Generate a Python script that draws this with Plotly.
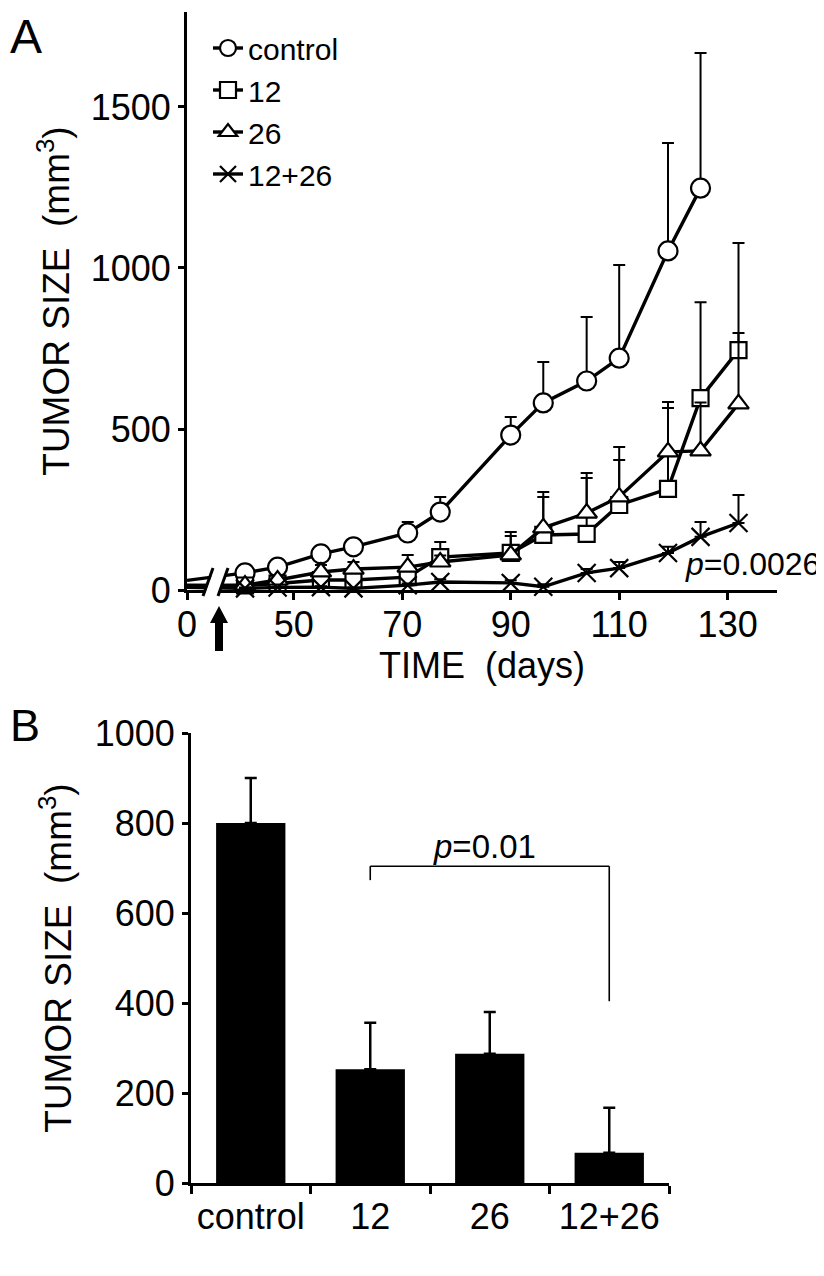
import plotly.graph_objects as go

# ---------------- data ----------------
# Panel A: tumour growth over time (days); day 0 sits before an axis break
days_control = [0, 41, 47, 55, 61, 71, 77, 90, 96, 104, 110, 119, 125]
control = [30, 53, 71, 112, 134, 177, 242, 481, 581, 649, 720, 1053, 1248]
control_err = [0, 8, 9, 10, 10, 34, 47, 56, 127, 199, 289, 335, 420]

days_treated = [0, 41, 47, 55, 61, 71, 77, 90, 96, 104, 110, 119, 125, 132]
g12 = [15, 14, 20, 31, 31, 40, 102, 115, 171, 174, 264, 314, 596, 745]
g12_err = [0, 5, 6, 8, 10, 20, 47, 53, 118, 174, 140, 251, 298, 333]
g26 = [12, 15, 31, 56, 65, 71, 87, 109, 193, 239, 289, 429, 432, 578]
g26_err = [0, 6, 8, 22, 22, 38, 20, 71, 111, 124, 155, 155, 150, 220]
g12_26 = [8, 5, 8, 9, 5, 15, 25, 22, 10, 53, 68, 115, 165, 208]
g12_26_err = [0, 3, 3, 3, 3, 5, 8, 8, 8, 12, 19, 19, 46, 87]

x_ticks_days = [0, 50, 70, 90, 110, 130]
y_ticks_a = [0, 500, 1000, 1500]

# Panel B: final tumour size
groups = ["control", "12", "26", "12+26"]
final_size = [800, 253, 287, 67]
final_err = [100, 103, 93, 100]
y_ticks_b = [0, 200, 400, 600, 800, 1000]

p_a = "<i>p</i>=0.0026"
p_b = "<i>p</i>=0.01"

# ---------------- helpers ----------------
OFF = 8                      # default page margin of the html body
W, H = 824 - OFF, 1276 - OFF
FONT = "Liberation Sans, Arial, Helvetica, sans-serif"
BREAK_POS = 30.3   # axis position where day 0 is drawn (broken axis)


def axis_pos(d):
    """Broken x axis: day 0 is drawn just left of the break."""
    return d if d >= 35 else BREAK_POS + d


def px(x):
    return (x - OFF) / W


def py(y):
    return 1 - (y - OFF) / H


fig = go.Figure()

series = [
    ("control", days_control, control, control_err, "circle", 19),
    ("12", days_treated, g12, g12_err, "square", 16),
    ("26", days_treated, g26, g26_err, "triangle-up", 18),
    ("12+26", days_treated, g12_26, g12_26_err, "x-thin", 18),
]
for name, days, vals, errs, sym, size in series:
    xs = [axis_pos(d) for d in days]
    # day-0 baseline segment (no marker) running into the axis break
    fig.add_trace(go.Scatter(
        x=xs[:2], y=vals[:2], mode="lines", showlegend=False,
        cliponaxis=False, line=dict(color="black", width=3.4),
        hoverinfo="skip", xaxis="x", yaxis="y",
    ))
for name, days, vals, errs, sym, size in series:
    xs = [axis_pos(d) for d in days]
    fig.add_trace(go.Scatter(
        x=xs[1:], y=vals[1:], name=name,
        mode="lines+markers", cliponaxis=False,
        line=dict(color="black", width=3.4),
        marker=dict(symbol=sym, size=size, color="white",
                    line=dict(color="black", width=2.2)),
        error_y=dict(type="data", symmetric=False, array=errs[1:],
                     arrayminus=[0] * (len(errs) - 1), color="black",
                     thickness=2, width=6),
        xaxis="x", yaxis="y",
    ))

fig.add_trace(go.Bar(
    x=groups, y=final_size, width=0.58, showlegend=False,
    marker=dict(color="black", line=dict(width=0)),
    error_y=dict(type="data", symmetric=False, array=final_err,
                 arrayminus=[0] * len(final_err), color="black",
                 thickness=2.5, width=6),
    xaxis="x2", yaxis="y2",
))

axis_common = dict(
    showline=True, linecolor="black", linewidth=3, showgrid=False,
    zeroline=False, ticks="outside", tickcolor="black", tickwidth=2.5,
    automargin=False,
    tickfont=dict(family=FONT, size=36, color="black"),
)

fig.update_layout(
    width=W, height=H, autosize=False,
    margin=dict(l=0, r=0, t=0, b=0, pad=0),
    paper_bgcolor="white", plot_bgcolor="white",
    font=dict(family=FONT, color="black"),
    xaxis=dict(
        axis_common, domain=[px(187), px(777)], range=[BREAK_POS, 139.1],
        anchor="y", ticklen=7, ticklabelstandoff=-6, tickangle=0,
        tickvals=[axis_pos(d) for d in x_ticks_days],
        ticktext=[str(d) for d in x_ticks_days],
        title=dict(text="TIME\u00a0\u00a0(days)",
                   font=dict(family=FONT, size=36), standoff=0),
    ),
    yaxis=dict(
        axis_common, domain=[py(590), py(12)], range=[0, 1795],
        anchor="x", ticklen=6, tickvals=y_ticks_a,
        title=dict(text="TUMOR SIZE\u00a0\u00a0(mm<sup>3</sup>)",
                   font=dict(family=FONT, size=37), standoff=10),
    ),
    xaxis2=dict(
        axis_common, domain=[px(191), px(669)], anchor="y2",
        type="category", categoryorder="array", categoryarray=groups,
        range=[-0.5, 3.5], tickson="boundaries", ticklen=8, tickangle=0,
    ),
    yaxis2=dict(
        axis_common, domain=[py(1183), py(733)], range=[0, 1000],
        anchor="x2", ticklen=6, tickvals=y_ticks_b,
        title=dict(text="TUMOR SIZE\u00a0\u00a0(mm<sup>3</sup>)",
                   font=dict(family=FONT, size=37), standoff=12),
    ),
    legend=dict(
        x=px(208), y=py(22), xanchor="left", yanchor="top",
        bgcolor="rgba(0,0,0,0)", font=dict(family=FONT, size=30),
        itemsizing="trace", tracegroupgap=0,
    ),
    showlegend=True,
)

# ---------------- axis break marks ----------------
fig.add_shape(type="path", xref="paper", yref="paper",
              path=f"M {px(204)} {py(596)} L {px(214)} {py(569)} "
                   f"L {px(227)} {py(569)} L {px(217)} {py(596)} Z",
              fillcolor="white", line=dict(width=0), layer="above")
for x_bot, x_top in [(203, 213), (218, 228)]:
    fig.add_shape(type="line", xref="paper", yref="paper",
                  x0=px(x_bot), y0=py(596), x1=px(x_top), y1=py(568),
                  line=dict(color="black", width=3), layer="above")

# treatment start arrow (decoration below the broken axis)
fig.add_shape(type="path", xref="paper", yref="paper",
              path=(f"M {px(219)} {py(606)} L {px(228)} {py(623)} "
                    f"L {px(223)} {py(623)} L {px(223)} {py(651)} "
                    f"L {px(215)} {py(651)} L {px(215)} {py(623)} "
                    f"L {px(210)} {py(623)} Z"),
              fillcolor="black", line=dict(width=0), layer="above")

# p-values
fig.add_annotation(xref="x", yref="y", x=134.5, y=81, text=p_a,
                   showarrow=False, font=dict(family=FONT, size=32))

# bracket in panel B (category positions 1 = "12", 3 = "12+26")
fig.add_shape(type="line", xref="x2", yref="y2", x0=1, x1=1,
              y0=673, y1=704, line=dict(color="black", width=1.6))
fig.add_shape(type="line", xref="x2", yref="y2", x0=1, x1=3,
              y0=704, y1=704, line=dict(color="black", width=1.6))
fig.add_shape(type="line", xref="x2", yref="y2", x0=3, x1=3,
              y0=704, y1=404, line=dict(color="black", width=1.6))
fig.add_annotation(xref="x2", yref="y2", x=1.96, y=748, text=p_b,
                   showarrow=False, font=dict(family=FONT, size=33))

# panel letters
fig.add_annotation(xref="paper", yref="paper", x=0, y=py(8), xanchor="left",
                   yanchor="top", text="A", showarrow=False,
                   font=dict(family=FONT, size=48))
fig.add_annotation(xref="paper", yref="paper", x=0, y=py(698), xanchor="left",
                   yanchor="top", text="B", showarrow=False,
                   font=dict(family=FONT, size=45))

fig.write_html("out.html")
